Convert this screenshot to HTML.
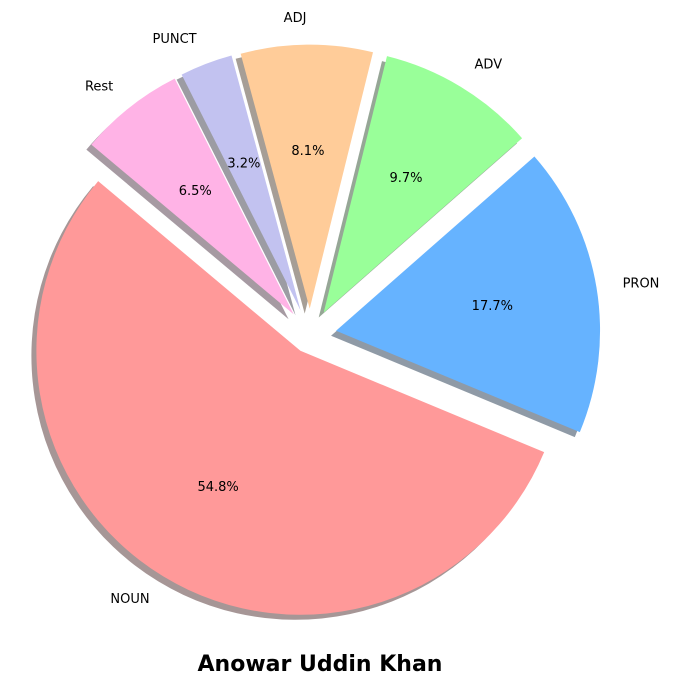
<!DOCTYPE html>
<html><head><meta charset="utf-8"><style>
html,body{margin:0;padding:0;background:#fff;}
svg{display:block;font-family:"DejaVu Sans","Liberation Sans",sans-serif;}
</style></head><body>
<svg id="chart" width="673" height="685" xmlns="http://www.w3.org/2000/svg">
<text x="320" y="671" text-anchor="middle" font-size="22" font-weight="bold">Anowar Uddin Khan</text>
</svg>
<script>
const categories = ["NOUN","PRON","ADV","ADJ","PUNCT","Rest"];
const values = [34,11,6,5,2,4];
const colors = ["#ff9999","#66b3ff","#99ff99","#ffcc99","#c2c2f0","#ffb3e6"];
const explodes = [0.07,0.1,0.1,0.1,0.1,0.1];
const startAngle = 140;
const cx = 310, cy = 335, R = 264;
const svg = document.getElementById('chart');
const NS = 'http://www.w3.org/2000/svg';
const total = values.reduce((a,b)=>a+b,0);
function pt(x,y,r,deg){const a=deg*Math.PI/180;return [x+r*Math.cos(a), y-r*Math.sin(a)];}
function wedgePath(x,y,a1,a2){
  const p1=pt(x,y,R,a1), p2=pt(x,y,R,a2);
  const large=(a2-a1)>180?1:0;
  return `M${x},${y} L${p1[0]},${p1[1]} A${R},${R} 0 ${large} 0 ${p2[0]},${p2[1]} Z`;
}
function shade(hex){
  const n=parseInt(hex.slice(1),16);
  const r=(n>>16)&255,g=(n>>8)&255,b=n&255;
  return `rgb(${Math.round(0.3*r)},${Math.round(0.3*g)},${Math.round(0.3*b)})`;
}
let a=startAngle;
const slices=[];
values.forEach((v,i)=>{
  const span=v/total*360, mid=a+span/2;
  const [vx,vy]=pt(cx,cy,explodes[i]*R,mid);
  slices.push({a1:a,a2:a+span,mid,vx,vy,i,v});
  a+=span;
});
const gS=document.createElementNS(NS,'g');


svg.appendChild(gS);
const gW=document.createElementNS(NS,'g');


svg.appendChild(gW);
slices.forEach(s=>{
  const sh=document.createElementNS(NS,'path');
  sh.setAttribute('d',wedgePath(s.vx-5,s.vy+5,s.a1,s.a2));
  sh.setAttribute('fill',shade(colors[s.i]));
  sh.setAttribute('fill-opacity','0.5');
  
  
  gS.appendChild(sh);
});
slices.forEach(s=>{
  const p=document.createElementNS(NS,'path');
  p.setAttribute('d',wedgePath(s.vx,s.vy,s.a1,s.a2));
  p.setAttribute('fill',colors[s.i]);
  
  
  gW.appendChild(p);
  const [lx,ly]=pt(s.vx,s.vy,1.1*R,s.mid);
  const t=document.createElementNS(NS,'text');
  t.setAttribute('x',lx); t.setAttribute('y',ly+4);
  t.setAttribute('font-size','13');
  t.setAttribute('text-anchor',Math.cos(s.mid*Math.PI/180)>=0?'start':'end');
  t.textContent=categories[s.i];
  
  
  svg.appendChild(t);
  const [px,py]=pt(s.vx,s.vy,0.6*R,s.mid);
  const q=document.createElementNS(NS,'text');
  q.setAttribute('x',px); q.setAttribute('y',py+5);
  q.setAttribute('font-size','13');
  q.setAttribute('text-anchor','middle');
  q.textContent=(s.v/total*100).toFixed(1)+'%';
  
  
  svg.appendChild(q);
});
</script>
</body></html>
